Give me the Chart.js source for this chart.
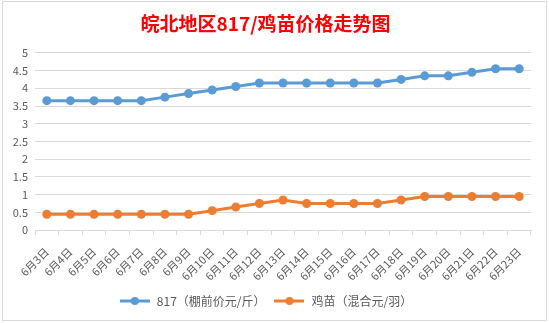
<!DOCTYPE html>
<html>
<head>
  <meta charset="UTF-8" />
  <title>皖北地区817/鸡苗价格走势图</title>
  <style>
    html, body { margin: 0; padding: 0; background: #fff; }
    #wrap { position: absolute; left: 0; top: 0; width: 549px; height: 323px; }
  </style>
</head>
<body>
  <div id="wrap"><canvas id="priceChart"></canvas></div>
  <script src="https://cdn.jsdelivr.net/npm/chart.js"></script>
  <script>
    const dates = ['6月3日', '6月4日', '6月5日', '6月6日', '6月7日', '6月8日', '6月9日', '6月10日',
      '6月11日', '6月12日', '6月13日', '6月14日', '6月15日', '6月16日', '6月17日', '6月18日',
      '6月19日', '6月20日', '6月21日', '6月22日', '6月23日'];
    const price817 = [3.65, 3.65, 3.65, 3.65, 3.65, 3.75, 3.85, 3.95, 4.05, 4.15, 4.15,
      4.15, 4.15, 4.15, 4.15, 4.25, 4.35, 4.35, 4.45, 4.55, 4.55];
    const chickPrice = [0.45, 0.45, 0.45, 0.45, 0.45, 0.45, 0.45, 0.55, 0.65, 0.75, 0.85,
      0.75, 0.75, 0.75, 0.75, 0.85, 0.95, 0.95, 0.95, 0.95, 0.95];

    const BLUE = '#5B9BD5';
    const ORANGE = '#ED7D31';
    const FONT = '"Noto Sans CJK SC", "Noto Sans", sans-serif';

    // legend marker: short line with a dot in the middle
    function legendMarker(color) {
      const c = document.createElement('canvas');
      c.width = 30; c.height = 10;
      const ctx = c.getContext('2d');
      ctx.strokeStyle = color;
      ctx.lineWidth = 3;
      ctx.beginPath();
      ctx.moveTo(0, 5); ctx.lineTo(30, 5);
      ctx.stroke();
      ctx.fillStyle = color;
      ctx.beginPath();
      ctx.arc(15, 5, 4, 0, Math.PI * 2);
      ctx.fill();
      return c;
    }

    const frame = {
      id: 'frame',
      beforeDraw(chart) {
        const ctx = chart.ctx;
        ctx.save();
        ctx.fillStyle = '#fff';
        ctx.fillRect(0, 0, chart.width, chart.height);
        ctx.strokeStyle = '#d9d9d9';
        ctx.lineWidth = 1;
        ctx.strokeRect(2.5, 1.5, 544, 319);
        ctx.restore();
      }
    };

    new Chart(document.getElementById('priceChart'), {
      type: 'line',
      data: {
        labels: dates,
        datasets: [{
          label: '817（棚前价元/斤）',
          data: price817,
          borderColor: BLUE,
          backgroundColor: BLUE,
          borderWidth: 3,
          pointRadius: 4.5,
          pointBorderWidth: 0,
          tension: 0
        }, {
          label: '鸡苗（混合元/羽）',
          data: chickPrice,
          borderColor: ORANGE,
          backgroundColor: ORANGE,
          borderWidth: 3,
          pointRadius: 4.5,
          pointBorderWidth: 0,
          tension: 0
        }]
      },
      options: {
        responsive: true,
        maintainAspectRatio: false,
        animation: false,
        layout: { padding: { left: 0, right: 18, top: 0, bottom: 6 } },
        plugins: {
          title: {
            display: true,
            text: '皖北地区817/鸡苗价格走势图',
            color: '#FF0000',
            font: { family: FONT, size: 19, weight: 'bold' },
            padding: { top: 12, bottom: 18 }
          },
          legend: {
            position: 'bottom',
            labels: {
              color: '#595959',
              font: { family: FONT, size: 12 },
              usePointStyle: true,
              pointStyleWidth: 32,
              padding: 8,
              generateLabels(chart) {
                return chart.data.datasets.map((ds, i) => ({
                  text: ds.label,
                  fontColor: '#595959',
                  pointStyle: legendMarker(ds.borderColor),
                  lineWidth: 0,
                  strokeStyle: 'transparent',
                  fillStyle: ds.borderColor,
                  datasetIndex: i
                }));
              }
            }
          },
          tooltip: { enabled: false }
        },
        scales: {
          x: {
            offset: true,
            afterFit(scale) { scale.height -= 6; },
            grid: {
              offset: true,
              drawOnChartArea: false,
              drawTicks: true,
              tickLength: 5,
              color: '#d9d9d9'
            },
            border: { display: true, color: '#d9d9d9' },
            ticks: {
              color: '#595959',
              font: { family: FONT, size: 11 },
              maxRotation: 45,
              minRotation: 45,
              autoSkip: false,
              padding: 10
            }
          },
          y: {
            min: 0,
            max: 5,
            afterFit(scale) { scale.width = 35; },
            grid: { color: '#d9d9d9', drawTicks: false },
            border: { display: false },
            ticks: {
              stepSize: 0.5,
              color: '#595959',
              font: { family: FONT, size: 11 },
              padding: 7,
              callback: v => String(v)
            }
          }
        }
      },
      plugins: [frame]
    });
  </script>
</body>
</html>
